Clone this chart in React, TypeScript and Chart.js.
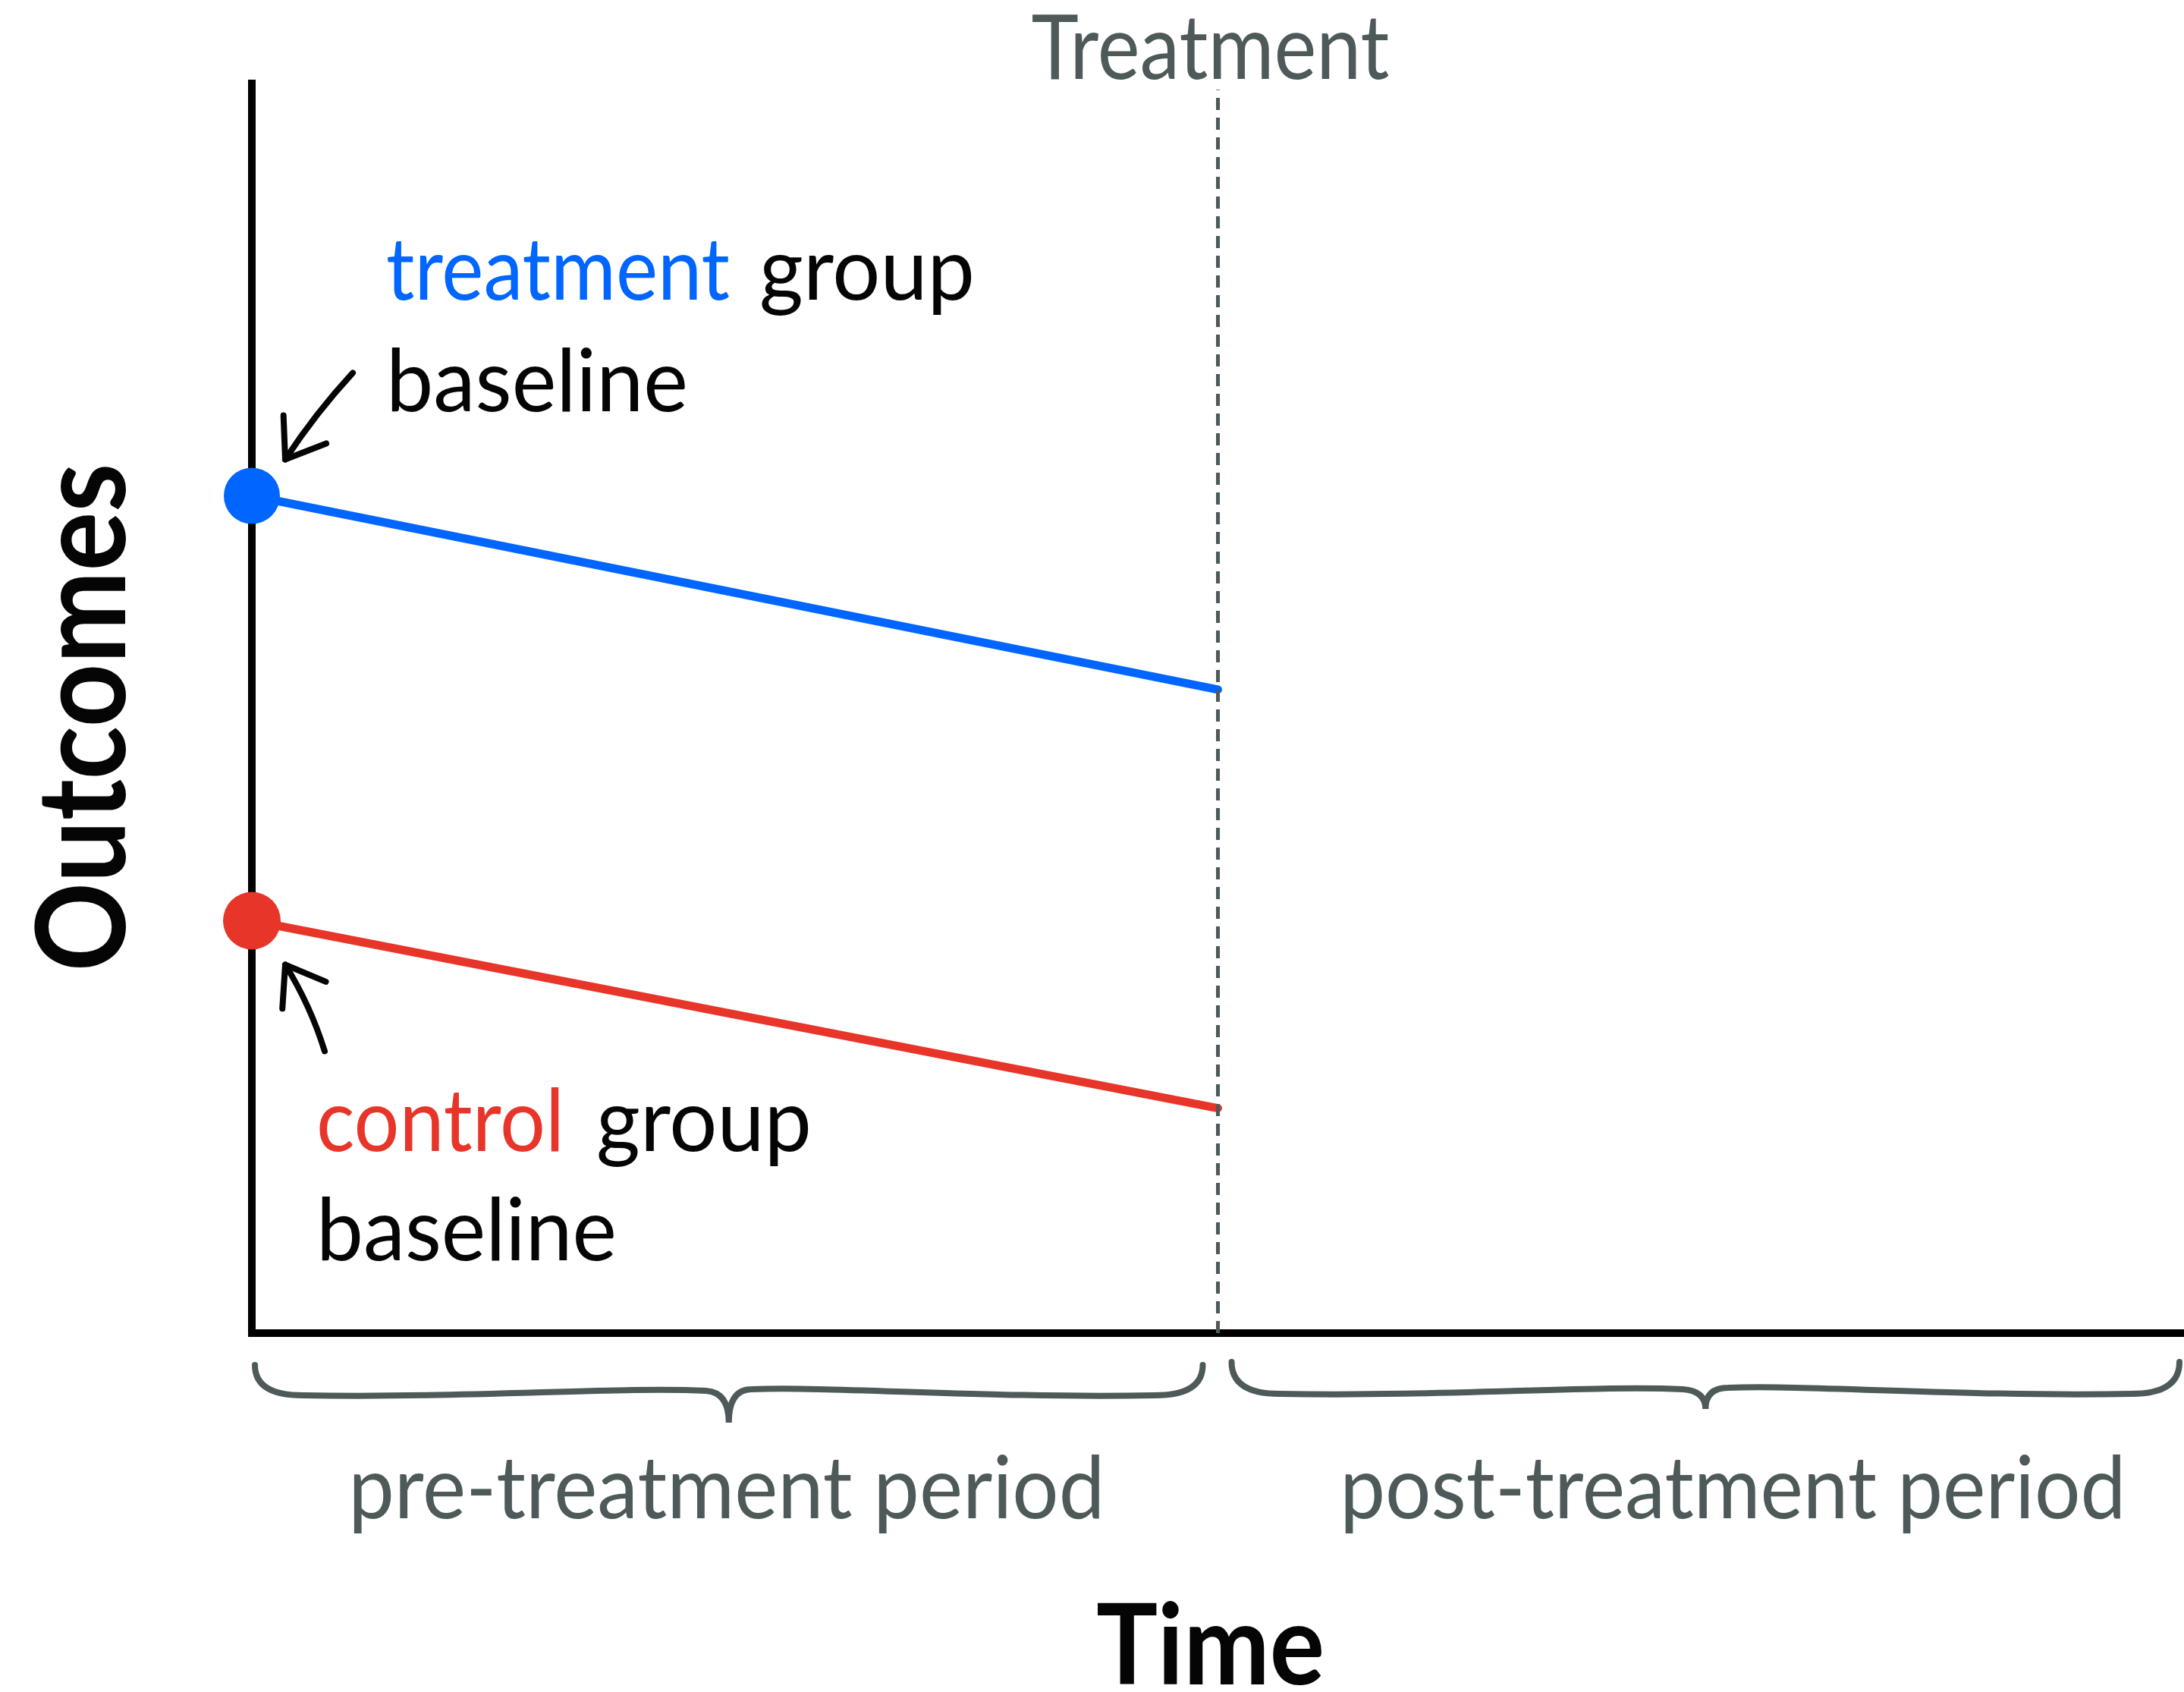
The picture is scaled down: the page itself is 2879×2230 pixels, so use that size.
import React, { useEffect, useRef } from "react";
import { Chart, registerables } from "chart.js";

Chart.register(...registerables);

// ---- data ----
const periodTimes = [0, 5];
const treatmentGroupOutcomes = [6.7, 5.15];
const controlGroupOutcomes = [3.3, 1.8];
const treatmentTime = 5;
const treatmentLineSpan = [0, 9.95];
const timeRange = [0, 10];
const outcomeRange = [0, 10];
const periodBounds = [
  [0, 5],
  [5, 10],
];
const periodLabels = ["pre-treatment period", "post-treatment period"];
const groupNames = ["treatment", "control"];
const groupSuffix = "group";
const baselineWord = "baseline";
const treatmentMarkerLabel = "Treatment";
const xAxisTitle = "Time";
const yAxisTitle = "Outcomes";

const BLUE = "#0066ff";
const RED = "#e8352a";
const GRAY = "#4e5959";
const INK = "#050505";
const FONT = "Lato, 'Open Sans', sans-serif";

function txt(
  ctx: CanvasRenderingContext2D,
  s: string,
  x: number,
  y: number,
  font: string,
  color: string,
  maxW: number,
  align: CanvasTextAlign = "left"
) {
  ctx.save();
  ctx.font = font;
  ctx.fillStyle = color;
  ctx.textAlign = align;
  ctx.textBaseline = "alphabetic";
  ctx.fillText(s, x, y, maxW);
  ctx.restore();
}

function arrow(
  ctx: CanvasRenderingContext2D,
  tx: number,
  ty: number,
  hx: number,
  hy: number,
  bend: number
) {
  ctx.save();
  ctx.strokeStyle = INK;
  ctx.lineWidth = 8;
  ctx.lineCap = "round";
  ctx.lineJoin = "round";
  const mx = (tx + hx) / 2;
  const my = (ty + hy) / 2;
  const dx = hx - tx;
  const dy = hy - ty;
  const len = Math.hypot(dx, dy);
  const nx = -dy / len;
  const ny = dx / len;
  const cx = mx + nx * bend;
  const cy = my + ny * bend;
  ctx.beginPath();
  ctx.moveTo(tx, ty);
  ctx.quadraticCurveTo(cx, cy, hx, hy);
  ctx.stroke();
  const ang = Math.atan2(hy - cy, hx - cx);
  const L = 58;
  const spread = 0.62;
  ctx.beginPath();
  ctx.moveTo(hx - L * Math.cos(ang - spread), hy - L * Math.sin(ang - spread));
  ctx.lineTo(hx, hy);
  ctx.lineTo(hx - L * Math.cos(ang + spread), hy - L * Math.sin(ang + spread));
  ctx.stroke();
  ctx.restore();
}

function brace(
  ctx: CanvasRenderingContext2D,
  x0: number,
  x1: number,
  yTop: number,
  yMid: number,
  yTip: number
) {
  const mid = (x0 + x1) / 2;
  const r = 45;
  ctx.save();
  ctx.strokeStyle = GRAY;
  ctx.lineWidth = 8;
  ctx.lineCap = "round";
  ctx.beginPath();
  ctx.moveTo(x0, yTop);
  ctx.quadraticCurveTo(x0, yMid, x0 + r * 1.4, yMid);
  ctx.bezierCurveTo(x0 + (mid - x0) * 0.45, yMid + 4, mid - 140, yMid - 12, mid - 30, yMid - 6);
  ctx.quadraticCurveTo(mid, yMid - 4, mid, yTip);
  ctx.quadraticCurveTo(mid, yMid - 8, mid + 30, yMid - 8);
  ctx.bezierCurveTo(mid + 140, yMid - 12, x1 - (x1 - mid) * 0.45, yMid + 4, x1 - r * 1.4, yMid);
  ctx.quadraticCurveTo(x1, yMid, x1, yTop);
  ctx.stroke();
  ctx.restore();
}

const annotationPlugin = {
  id: "didAnnotations",
  afterDatasetsDraw(chart: any) {
    const ctx: CanvasRenderingContext2D = chart.ctx;
    const xs = chart.scales.x;
    const ys = chart.scales.y;
    const area = chart.chartArea;

    const bx = xs.getPixelForValue(periodTimes[0]);
    const by = ys.getPixelForValue(treatmentGroupOutcomes[0]);
    const rx = xs.getPixelForValue(periodTimes[0]);
    const ry = ys.getPixelForValue(controlGroupOutcomes[0]);
    const tX = xs.getPixelForValue(treatmentTime);

    const labelFont = `400 115px ${FONT}`;

    txt(ctx, treatmentMarkerLabel, tX - 10, area.top - 6, `400 118px ${FONT}`, GRAY, 472, "center");

    txt(ctx, groupNames[0], bx + 177, by - 259, labelFont, BLUE, 453);
    txt(ctx, groupSuffix, bx + 669, by - 259, labelFont, INK, 284);
    txt(ctx, baselineWord, bx + 177, by - 112, labelFont, INK, 398);

    txt(ctx, groupNames[1], rx + 85, ry + 304, labelFont, RED, 327);
    txt(ctx, groupSuffix, rx + 454, ry + 304, labelFont, INK, 284);
    txt(ctx, baselineWord, rx + 85, ry + 448, labelFont, INK, 396);

    arrow(ctx, bx + 133, by - 162, bx + 44, by - 48, 6);
    arrow(ctx, rx + 96, ry + 172, rx + 44, ry + 58, 8);

    const p0a = xs.getPixelForValue(periodBounds[0][0]) + 4;
    const p0b = xs.getPixelForValue(periodBounds[0][1]) - 20;
    const p1a = xs.getPixelForValue(periodBounds[1][0]) + 18;
    const p1b = xs.getPixelForValue(periodBounds[1][1]) - 6;
    brace(ctx, p0a, p0b, area.bottom + 42, area.bottom + 82, area.bottom + 118);
    brace(ctx, p1a, p1b, area.bottom + 38, area.bottom + 80, area.bottom + 100);

    const c0 = (xs.getPixelForValue(periodBounds[0][0]) + xs.getPixelForValue(periodBounds[0][1])) / 2;
    const c1 = (xs.getPixelForValue(periodBounds[1][0]) + xs.getPixelForValue(periodBounds[1][1])) / 2;
    txt(ctx, periodLabels[0], c0 - 11, area.bottom + 244, labelFont, GRAY, 997, "center");
    txt(ctx, periodLabels[1], c1 + 42, area.bottom + 244, labelFont, GRAY, 1036, "center");

    txt(ctx, xAxisTitle, tX - 10, area.bottom + 463, `700 148px ${FONT}`, INK, 301, "center");
    ctx.save();
    ctx.translate(area.left - 167, (area.top + area.bottom) / 2 + 12);
    ctx.rotate(-Math.PI / 2);
    txt(ctx, yAxisTitle, 0, 0, `700 162px ${FONT}`, INK, 670, "center");
    ctx.restore();
  },
};

export default function App() {
  const canvasRef = useRef<HTMLCanvasElement | null>(null);

  useEffect(() => {
    if (!canvasRef.current) return;
    const chart = new Chart(canvasRef.current, {
      type: "line",
      data: {
        datasets: [
          {
            label: "treatment line",
            data: treatmentLineSpan.map((y) => ({ x: treatmentTime, y })),
            borderColor: GRAY,
            borderWidth: 5,
            borderDash: [16, 10],
            pointRadius: 0,
            clip: false as any,
          },
          {
            label: "treatment group",
            data: periodTimes.map((x, i) => ({ x, y: treatmentGroupOutcomes[i] })),
            borderColor: BLUE,
            backgroundColor: BLUE,
            borderWidth: 11,
            pointRadius: [37, 0],
            pointBorderWidth: 0,
            borderCapStyle: "round",
            clip: false as any,
          },
          {
            label: "control group",
            data: periodTimes.map((x, i) => ({ x, y: controlGroupOutcomes[i] })),
            borderColor: RED,
            backgroundColor: RED,
            borderWidth: 11,
            pointRadius: [38, 0],
            pointBorderWidth: 0,
            borderCapStyle: "round",
            clip: false as any,
          },
        ],
      },
      options: {
        animation: false,
        responsive: true,
        maintainAspectRatio: false,
        layout: { autoPadding: false, padding: { left: 332, top: 110, right: 0, bottom: 473 } },
        plugins: {
          legend: { display: false },
          tooltip: { enabled: false },
          title: { display: false },
        },
        events: [],
        scales: {
          x: {
            type: "linear",
            min: timeRange[0],
            max: timeRange[1],
            ticks: { display: false },
            grid: { display: false, drawTicks: false },
            border: { display: true, color: "#000", width: 10 },
            afterFit: (s: any) => {
              s.height = 0;
            },
          },
          y: {
            type: "linear",
            min: outcomeRange[0],
            max: outcomeRange[1],
            ticks: { display: false },
            grid: { display: false, drawTicks: false },
            border: { display: true, color: "#000", width: 10 },
            afterFit: (s: any) => {
              s.width = 0;
            },
          },
        },
      },
      plugins: [annotationPlugin],
    });
    return () => chart.destroy();
  }, []);

  return (
    <div
      style={{
        position: "fixed",
        left: 0,
        top: 0,
        width: 2879,
        height: 2230,
        background: "#fff",
      }}
    >
      <canvas ref={canvasRef} />
    </div>
  );
}
